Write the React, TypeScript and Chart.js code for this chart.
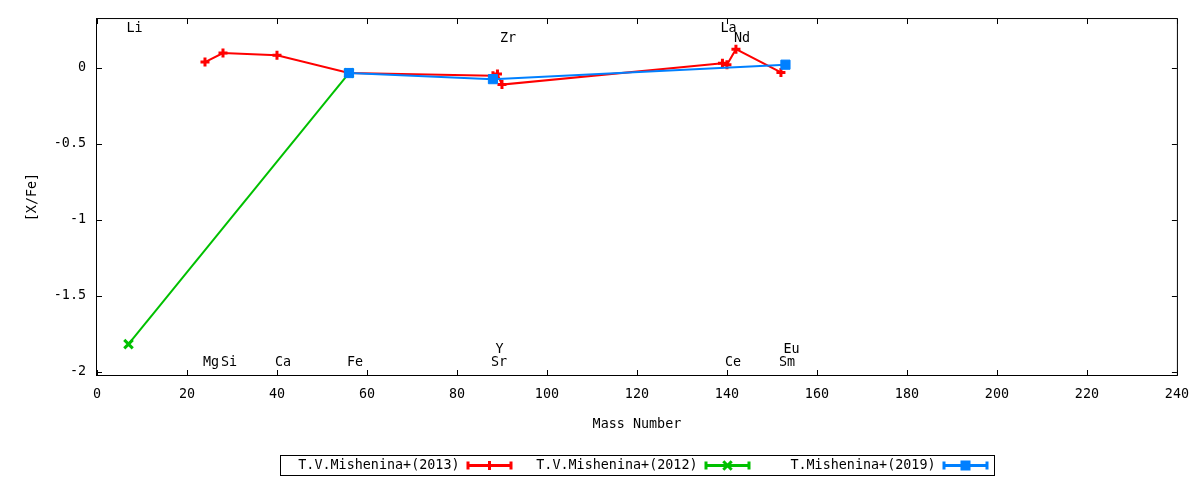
import React, { useEffect, useRef } from "react";
import { Chart, registerables } from "chart.js";

Chart.register(...registerables);

// ---- data ----
const seriesLabels = ["T.V.Mishenina+(2013)", "T.V.Mishenina+(2012)", "T.Mishenina+(2019)"];

const mass2013 = [24, 28, 40, 56, 88, 89, 90, 139, 140, 142, 152];
const xfe2013 = [0.037, 0.096, 0.082, -0.035, -0.053, -0.042, -0.111, 0.03, 0.02, 0.122, -0.031];

const mass2012 = [7, 56];
const xfe2012 = [-1.817, -0.035];

const mass2019 = [56, 88, 153];
const xfe2019 = [-0.035, -0.075, 0.02];

const elementNames = ["Li", "Mg", "Si", "Ca", "Fe", "Sr", "Y", "Zr", "La", "Ce", "Nd", "Sm", "Eu"];
const elementMass = [7, 24, 28, 40, 56, 88, 89, 90, 139, 140, 142, 152, 153];
const elementLabelY = [0.26, -1.94, -1.94, -1.94, -1.94, -1.94, -1.85, 0.19, 0.26, -1.94, 0.19, -1.94, -1.85];

const xTicks = [0, 20, 40, 60, 80, 100, 120, 140, 160, 180, 200, 220, 240];
const yTicks = [0, -0.5, -1, -1.5, -2];

const X_MIN = 0;
const X_MAX = 240;
const Y_MIN = -2.02;
const Y_MAX = 0.32;

// ---- styles ----
const FONT_FAMILY = "'DejaVu Sans Mono', 'Liberation Mono', monospace";
const FONT_SIZE = 13.4;
const seriesColors = ["#ff0000", "#00c000", "#0080ff"];

function drawMarker(ctx: CanvasRenderingContext2D, style: string, x: number, y: number, color: string) {
  ctx.save();
  ctx.strokeStyle = color;
  ctx.fillStyle = color;
  if (style === "cross") {
    ctx.lineWidth = 3;
    ctx.beginPath();
    ctx.moveTo(x - 4.5, y);
    ctx.lineTo(x + 4.5, y);
    ctx.moveTo(x, y - 4.5);
    ctx.lineTo(x, y + 4.5);
    ctx.stroke();
  } else if (style === "crossRot") {
    ctx.lineWidth = 3;
    const d = 4.2;
    ctx.beginPath();
    ctx.moveTo(x - d, y - d);
    ctx.lineTo(x + d, y + d);
    ctx.moveTo(x - d, y + d);
    ctx.lineTo(x + d, y - d);
    ctx.stroke();
  } else {
    ctx.fillRect(x - 5, y - 5, 10, 10);
  }
  ctx.restore();
}

const framePlugin = {
  id: "gpFrame",
  afterDraw(chart: any) {
    const ctx: CanvasRenderingContext2D = chart.ctx;
    const { left, right, top, bottom } = chart.chartArea;
    const xs = chart.scales.x;
    const ys = chart.scales.y;
    const tl = 5;
    ctx.save();
    ctx.strokeStyle = "#000";
    ctx.lineWidth = 1;
    ctx.beginPath();
    for (const v of xTicks) {
      const px = Math.round(xs.getPixelForValue(v)) + 0.5;
      ctx.moveTo(px, bottom);
      ctx.lineTo(px, bottom - tl);
      ctx.moveTo(px, top);
      ctx.lineTo(px, top + tl);
    }
    for (const v of yTicks) {
      const py = Math.round(ys.getPixelForValue(v)) + 0.5;
      ctx.moveTo(left, py);
      ctx.lineTo(left + tl, py);
      ctx.moveTo(right, py);
      ctx.lineTo(right - tl, py);
    }
    ctx.stroke();
    ctx.strokeRect(left - 0.5, top - 0.5, right - left + 1, bottom - top + 1);

    // element labels
    ctx.fillStyle = "#000";
    ctx.font = `${FONT_SIZE}px ${FONT_FAMILY}`;
    ctx.textAlign = "left";
    ctx.textBaseline = "middle";
    elementNames.forEach((name, i) => {
      const px = xs.getPixelForValue(elementMass[i]) - 2;
      const py = ys.getPixelForValue(elementLabelY[i]);
      ctx.fillText(name, px, py);
    });

    // legend (gnuplot style key box)
    const datasets = chart.data.datasets;
    const entryW = 238;
    const boxW = entryW * datasets.length;
    const boxH = 20;
    const cx = (left + right) / 2;
    const bx = Math.round(cx - boxW / 2) + 0.5;
    const by = chart.height - 25 + 0.5;
    ctx.strokeStyle = "#000";
    ctx.lineWidth = 1;
    ctx.strokeRect(bx, by, boxW, boxH);
    const cy = by + boxH / 2;
    datasets.forEach((ds: any, i: number) => {
      const ex = bx + entryW * i;
      ctx.fillStyle = "#000";
      ctx.textAlign = "right";
      ctx.textBaseline = "middle";
      ctx.fillText(ds.label, ex + 179, cy);
      const s0 = ex + 187;
      const s1 = ex + 231;
      ctx.strokeStyle = ds.borderColor;
      ctx.fillStyle = ds.borderColor;
      ctx.lineWidth = 3;
      ctx.beginPath();
      ctx.moveTo(s0, cy);
      ctx.lineTo(s1, cy);
      ctx.stroke();
      ctx.fillRect(s0 - 1, cy - 4, 3, 8);
      ctx.fillRect(s1 - 2, cy - 4, 3, 8);
      drawMarker(ctx, ds.pointStyle, (s0 + s1) / 2, cy, ds.borderColor);
    });
    ctx.restore();
  },
};

export default function App() {
  const canvasRef = useRef<HTMLCanvasElement | null>(null);

  useEffect(() => {
    const canvas = canvasRef.current;
    if (!canvas) return;
    const font = { family: FONT_FAMILY, size: FONT_SIZE };

    const chart = new Chart(canvas, {
      type: "line",
      data: {
        datasets: [
          {
            label: seriesLabels[0],
            data: mass2013.map((x, i) => ({ x, y: xfe2013[i] })),
            borderColor: seriesColors[0],
            backgroundColor: seriesColors[0],
            borderWidth: 2,
            pointStyle: "cross",
            pointRadius: 4.5,
            pointBorderWidth: 3,
            fill: false,
            tension: 0,
            order: 3,
          },
          {
            label: seriesLabels[1],
            data: mass2012.map((x, i) => ({ x, y: xfe2012[i] })),
            borderColor: seriesColors[1],
            backgroundColor: seriesColors[1],
            borderWidth: 2,
            pointStyle: "crossRot",
            pointRadius: 6,
            pointBorderWidth: 3,
            fill: false,
            tension: 0,
            order: 2,
          },
          {
            label: seriesLabels[2],
            data: mass2019.map((x, i) => ({ x, y: xfe2019[i] })),
            borderColor: seriesColors[2],
            backgroundColor: seriesColors[2],
            borderWidth: 2,
            pointStyle: "rect",
            pointRadius: 6.5,
            pointBorderWidth: 1,
            fill: false,
            tension: 0,
            order: 1,
          },
        ],
      },
      options: {
        animation: false,
        responsive: false,
        maintainAspectRatio: false,
        layout: { padding: { left: 0, right: 23, top: 17, bottom: 0 } },
        plugins: {
          legend: { display: false },
          tooltip: { enabled: false },
        },
        scales: {
          x: {
            type: "linear",
            min: X_MIN,
            max: X_MAX,
            grid: { display: false, drawTicks: false },
            border: { display: false },
            afterBuildTicks: (s: any) => {
              s.ticks = xTicks.map((v) => ({ value: v }));
            },
            ticks: {
              color: "#000",
              font,
              padding: 11,
              maxRotation: 0,
              autoSkip: false,
              callback: (v: any) => String(v),
            },
            title: {
              display: true,
              text: "Mass Number",
              color: "#000",
              font,
              padding: { top: 0, bottom: 47 },
            },
            afterFit: (s: any) => {
              s.height = 105;
            },
          },
          y: {
            type: "linear",
            min: Y_MIN,
            max: Y_MAX,
            grid: { display: false, drawTicks: false },
            border: { display: false },
            afterBuildTicks: (s: any) => {
              s.ticks = yTicks.map((v) => ({ value: v }));
            },
            ticks: {
              color: "#000",
              font,
              padding: 11,
              autoSkip: false,
              callback: (v: any) => String(v),
            },
            title: {
              display: true,
              text: "[X/Fe]",
              color: "#000",
              font,
              padding: { top: 24, bottom: 0 },
            },
            afterFit: (s: any) => {
              s.width = 97;
            },
          },
        },
      },
      plugins: [framePlugin],
    } as any);

    return () => {
      chart.destroy();
    };
  }, []);

  return (
    <div style={{ position: "fixed", left: 0, top: 0, width: 1200, height: 480, background: "#fff" }}>
      <canvas ref={canvasRef} width={1200} height={480} style={{ display: "block", width: 1200, height: 480 }} />
    </div>
  );
}
